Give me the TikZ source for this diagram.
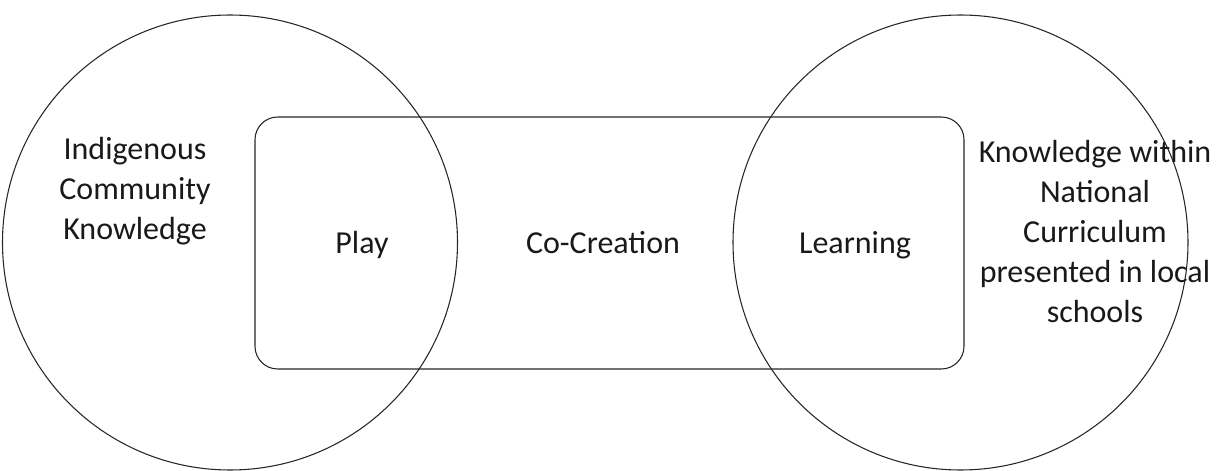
\documentclass[tikz,border=0pt]{standalone}
\usepackage{fontspec}
\setmainfont{Carlito}
\begin{document}
\begin{tikzpicture}[x=0.75pt,y=-0.75pt,
  outline/.style={draw=black!85,line width=0.8pt},
  ring/.style={outline,circle,inner sep=0pt,minimum size=341.25pt},
  lbl/.style={font=\fontsize{24pt}{30pt}\selectfont,text=black!90,align=center,anchor=base,inner sep=0pt}]
\useasboundingbox (0,0) rectangle (1222,471);
\node[ring] (left) at (230,242.5) {};
\node[ring] (right) at (960.5,242.5) {};
\node[outline,rectangle,rounded corners=17pt,inner sep=0pt,minimum width=531.75pt,minimum height=189pt] (box) at (609.5,243) {};
\node[lbl] (ick) at (135,239) {Indigenous\\Community\\Knowledge};
\node[lbl] (play) at (362,253) {Play};
\node[lbl] (cocr) at (603,253) {Co-Creation};
\node[lbl] (learn) at (855,253) {Learning};
\node[lbl] (knc) at (1095,322) {Knowledge within\\National\\Curriculum\\presented in local\\schools};
\end{tikzpicture}
\end{document}
